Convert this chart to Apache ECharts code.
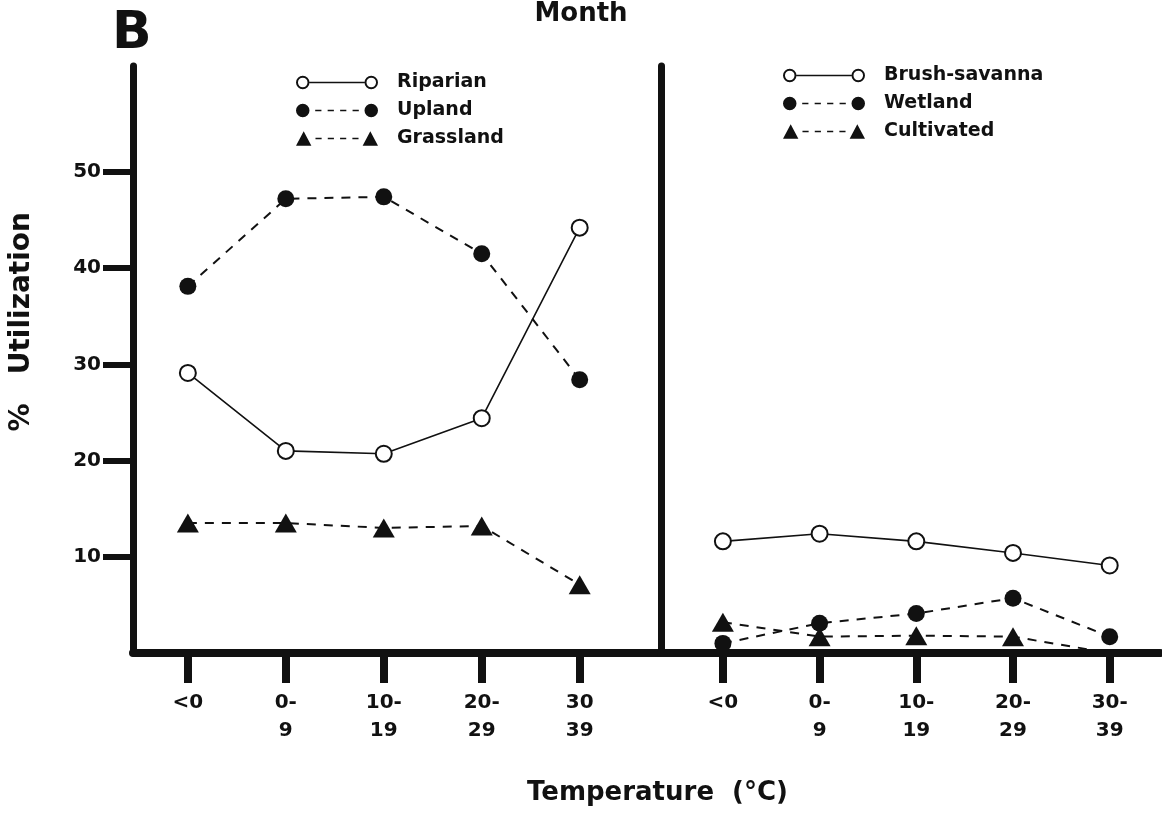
<!DOCTYPE html>
<html>
<head>
<meta charset="utf-8">
<script src="https://cdn.jsdelivr.net/npm/echarts@6/dist/echarts.min.js"></script>
<style>
  html, body { margin: 0; padding: 0; background: #fff; }
  #chart { width: 1162px; height: 815px; }
</style>
</head>
<body>
<div id="chart"></div>
<script>
// 温度类别（左右两个面板）
var tempLabelsLeft = ['<0', '0-\n9', '10-\n19', '20-\n29', '30\n39'];
var tempLabelsRight = ['<0', '0-\n9', '10-\n19', '20-\n29', '30-\n39'];
var yTicks = [10, 20, 30, 40, 50];

// 左面板
var riparian = [29.1, 21.0, 20.7, 24.4, 44.2];
var upland = [38.1, 47.2, 47.4, 41.5, 28.4];
var grassland = [13.5, 13.5, 13.0, 13.2, 7.1];

// 右面板
var brushSavanna = [11.6, 12.4, 11.6, 10.4, 9.1];
var wetland = [1.0, 3.1, 4.1, 5.7, 1.7];
var cultivated = [3.2, 1.7, 1.8, 1.7, 0];

var INK = '#111';
var FONT = 'DejaVu Sans';

// 图例图标：两端符号 + 中间连线
var ring = function (cx) {
    var a = cx - 6.5, b = cx + 6.5, c = cx - 4.6, d = cx + 4.6;
    return 'M' + a + ',7 A6.5,6.5 0 0 1 ' + b + ',7 L' + d + ',7 A4.6,4.6 0 0 0 ' + c + ',7 Z ' +
           'M' + a + ',7 A6.5,6.5 0 0 0 ' + b + ',7 L' + d + ',7 A4.6,4.6 0 0 1 ' + c + ',7 Z ';
};
var dot = function (cx) {
    return 'M' + (cx - 6.5) + ',7 A6.5,6.5 0 1 1 ' + (cx + 6.5) + ',7 A6.5,6.5 0 1 1 ' + (cx - 6.5) + ',7 Z ';
};
var tri = function (cx) {
    return 'M' + (cx - 7.5) + ',14 L' + cx + ',0 L' + (cx + 7.5) + ',14 Z ';
};
var dashes = 'M19,6.2 L25,6.2 L25,7.8 L19,7.8 Z M31,6.2 L37,6.2 L37,7.8 L31,7.8 Z ' +
             'M43,6.2 L49,6.2 L49,7.8 L43,7.8 Z M55,6.2 L61,6.2 L61,7.8 L55,7.8 Z ';
var iconSolid = 'path://' + ring(7) + 'M13.5,6.3 L66.5,6.3 L66.5,7.7 L13.5,7.7 Z ' + ring(73);
var iconDot = 'path://' + dot(7) + dashes + dot(73);
var iconTri = 'path://' + tri(7.5) + dashes + tri(72.5);

function legendItem(name, icon) {
    return { name: name, icon: icon, itemStyle: { color: INK, borderWidth: 0 } };
}

function legend(left, top, items) {
    return {
        left: left, top: top, orient: 'vertical', padding: 0,
        itemWidth: 82, itemHeight: 17, itemGap: 9, selectedMode: false,
        textStyle: { fontSize: 19, fontWeight: 'bold', color: INK, fontFamily: FONT, padding: [0, 0, 0, 14] },
        data: items
    };
}

function pts(values) {
    return values.map(function (v, i) { return [i, v]; });
}

function xAxis(grid, min, max, labels) {
    return {
        type: 'value', gridIndex: grid, min: min, max: max, z: 5,
        splitLine: { show: false },
        axisLine: { show: true, onZero: false, lineStyle: { color: INK, width: 8 } },
        axisTick: { show: true, customValues: [0, 1, 2, 3, 4], length: 30, lineStyle: { color: INK, width: 8 } },
        axisLabel: {
            customValues: [0, 1, 2, 3, 4], margin: 36,
            fontSize: 20, fontWeight: 'bold', color: INK, fontFamily: FONT, lineHeight: 28,
            formatter: function (v) { return labels[Math.round(v)]; }
        }
    };
}

function yAxis(grid, withTicks) {
    return {
        type: 'value', gridIndex: grid, min: 0, max: 61, z: 5,
        splitLine: { show: false },
        axisLine: { show: true, onZero: false, lineStyle: { color: INK, width: 7 } },
        axisTick: { show: withTicks, customValues: yTicks, length: 30, lineStyle: { color: INK, width: 6 } },
        axisLabel: {
            show: withTicks, customValues: yTicks, margin: 32,
            fontSize: 20, fontWeight: 'bold', color: INK, fontFamily: FONT
        }
    };
}

function openLine(name, values, idx) {
    return {
        name: name, type: 'line', xAxisIndex: idx, yAxisIndex: idx, data: pts(values),
        symbol: 'emptyCircle', symbolSize: 16,
        itemStyle: { color: INK, borderWidth: 2.5 },
        lineStyle: { color: INK, width: 1.6, type: 'solid' }
    };
}
function dotLine(name, values, idx) {
    return {
        name: name, type: 'line', xAxisIndex: idx, yAxisIndex: idx, data: pts(values),
        symbol: 'circle', symbolSize: 17,
        itemStyle: { color: INK },
        lineStyle: { color: INK, width: 2, type: [9, 8] }
    };
}
function triLine(name, values, idx) {
    return {
        name: name, type: 'line', xAxisIndex: idx, yAxisIndex: idx,
        data: values.map(function (v, i) { return { value: [i, v], symbolSize: v > 0 ? [22, 19] : 0 }; }),
        symbol: 'triangle',
        itemStyle: { color: INK },
        lineStyle: { color: INK, width: 2, type: [9, 8] }
    };
}

var myChart = echarts.init(document.getElementById('chart'));

var option = {
    animation: false,
    backgroundColor: '#fff',
    textStyle: { fontFamily: FONT },
    title: [
        { text: 'Month', left: 581, top: 1, textAlign: 'center', padding: 0,
          textStyle: { fontSize: 26, fontWeight: 'bold', color: INK, fontFamily: FONT } },
        { text: 'B', left: 112, top: 8, padding: 0,
          textStyle: { fontSize: 52, fontWeight: 'bold', color: INK, fontFamily: FONT } }
    ],
    legend: [
        legend(296, 73, [legendItem('Riparian', iconSolid), legendItem('Upland', iconDot), legendItem('Grassland', iconTri)]),
        legend(783, 66, [legendItem('Brush-savanna', iconSolid), legendItem('Wetland', iconDot), legendItem('Cultivated', iconTri)])
    ],
    grid: [
        { left: 133, top: 66, width: 528, height: 587 },
        { left: 661, top: 66, width: 499, height: 587 }
    ],
    xAxis: [
        xAxis(0, -0.56, 4.83, tempLabelsLeft),
        xAxis(1, -0.64, 4.52, tempLabelsRight)
    ],
    yAxis: [yAxis(0, true), yAxis(1, false)],
    graphic: [
        { type: 'text', left: 8, top: 212, rotation: Math.PI / 2,
          style: { text: '%   Utilization', fontSize: 28, fontWeight: 'bold', fill: INK, fontFamily: FONT } },
        { type: 'text', left: 527, top: 780,
          style: { text: 'Temperature  (°C)', fontSize: 26, fontWeight: 'bold', fill: INK, fontFamily: FONT } }
    ],
    series: [
        openLine('Riparian', riparian, 0),
        dotLine('Upland', upland, 0),
        triLine('Grassland', grassland, 0),
        openLine('Brush-savanna', brushSavanna, 1),
        dotLine('Wetland', wetland, 1),
        triLine('Cultivated', cultivated, 1)
    ]
};

myChart.setOption(option);
</script>
</body>
</html>
